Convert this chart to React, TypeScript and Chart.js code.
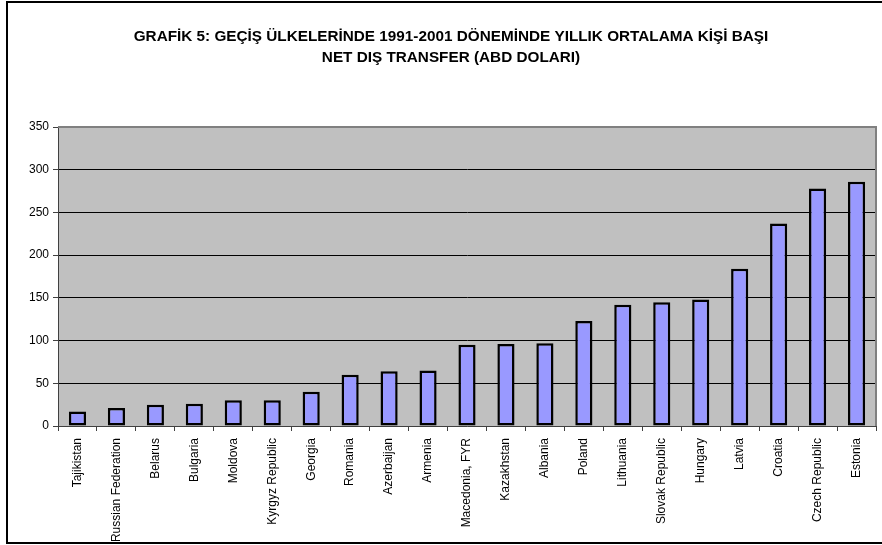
import React, { useEffect, useRef } from "react";
import { Chart, registerables } from "chart.js";

Chart.register(...registerables);

const titleLines = [
  "GRAFİK 5: GEÇİŞ ÜLKELERİNDE 1991-2001 DÖNEMİNDE YILLIK ORTALAMA KİŞİ BAŞI",
  "NET DIŞ TRANSFER (ABD DOLARI)",
];

const countries = [
  "Tajikistan",
  "Russian Federation",
  "Belarus",
  "Bulgaria",
  "Moldova",
  "Kyrgyz Republic",
  "Georgia",
  "Romania",
  "Azerbaijan",
  "Armenia",
  "Macedonia, FYR",
  "Kazakhstan",
  "Albania",
  "Poland",
  "Lithuania",
  "Slovak Republic",
  "Hungary",
  "Latvia",
  "Croatia",
  "Czech Republic",
  "Estonia",
];

const transferValues = [
  17, 21, 25, 26, 30, 30, 40, 60, 64, 65, 95, 96, 97, 123, 142, 145, 148, 184, 237, 278, 286,
];

const yMin = 0;
const yMax = 350;
const yStep = 50;

const FONT = "'Liberation Sans', Arial, sans-serif";

const framePlugin = {
  id: "frame",
  beforeDraw(chart: any) {
    const { ctx, chartArea, width, height } = chart;
    ctx.save();
    ctx.fillStyle = "#ffffff";
    ctx.fillRect(0, 0, width, height);
    ctx.fillStyle = "#C0C0C0";
    ctx.fillRect(chartArea.left, chartArea.top, chartArea.right - chartArea.left, chartArea.bottom - chartArea.top);
    ctx.restore();
  },
  afterDraw(chart: any) {
    const { ctx, chartArea } = chart;
    ctx.save();
    ctx.strokeStyle = "#808080";
    ctx.lineWidth = 2;
    ctx.beginPath();
    ctx.moveTo(chartArea.left, chartArea.top);
    ctx.lineTo(chartArea.right, chartArea.top);
    ctx.lineTo(chartArea.right, chartArea.bottom);
    ctx.stroke();
    ctx.strokeStyle = "#000000";
    ctx.lineWidth = 2;
    ctx.strokeRect(7, 2, 900, 541);
    ctx.fillStyle = "#000000";
    ctx.font = `bold 15.3px ${FONT}`;
    ctx.textAlign = "center";
    ctx.textBaseline = "alphabetic";
    ctx.fillText(titleLines[0], 451, 41);
    ctx.fillText(titleLines[1], 451, 62);
    ctx.restore();
  },
};

export default function App() {
  const canvasRef = useRef<HTMLCanvasElement | null>(null);

  useEffect(() => {
    if (!canvasRef.current) return;
    const chart = new Chart(canvasRef.current, {
      type: "bar",
      data: {
        labels: countries,
        datasets: [
          {
            data: transferValues,
            backgroundColor: "#9999FF",
            borderColor: "#000000",
            borderWidth: 2.5,
            borderSkipped: false,
            barPercentage: 0.44,
            categoryPercentage: 1,
          },
        ],
      },
      options: {
        animation: false,
        responsive: false,
        devicePixelRatio: 1,
        layout: { padding: { left: 0, top: 127, right: 6, bottom: 0 } },
        plugins: {
          legend: { display: false },
          title: { display: false },
          tooltip: { enabled: false },
        },
        scales: {
          x: {
            afterFit(scale: any) {
              scale.height = 119;
            },
            grid: {
              offset: true,
              drawOnChartArea: false,
              drawTicks: true,
              tickLength: 5,
              color: "#404040",
            },
            border: { display: true, color: "#404040", width: 1 },
            ticks: {
              autoSkip: false,
              maxRotation: 90,
              minRotation: 90,
              padding: 7,
              color: "#000000",
              font: { family: FONT, size: 12 },
            },
          },
          y: {
            min: yMin,
            max: yMax,
            afterFit(scale: any) {
              scale.width = 58;
            },
            grid: {
              color: (c: any) => (c.tick && (c.tick.value === yMax || c.tick.value === yMin) ? "#808080" : "#000000"),
              tickColor: "#404040",
              tickLength: 5,
              lineWidth: 1,
            },
            border: { display: true, color: "#404040", width: 1 },
            ticks: {
              stepSize: yStep,
              padding: 4,
              color: "#000000",
              font: { family: FONT, size: 12 },
            },
          },
        },
      },
      plugins: [framePlugin],
    });
    return () => chart.destroy();
  }, []);

  return (
    <div style={{ position: "fixed", left: 0, top: 0, width: 882, height: 545, background: "#fff" }}>
      <canvas ref={canvasRef} width={882} height={545} style={{ width: 882, height: 545, display: "block" }} />
    </div>
  );
}
